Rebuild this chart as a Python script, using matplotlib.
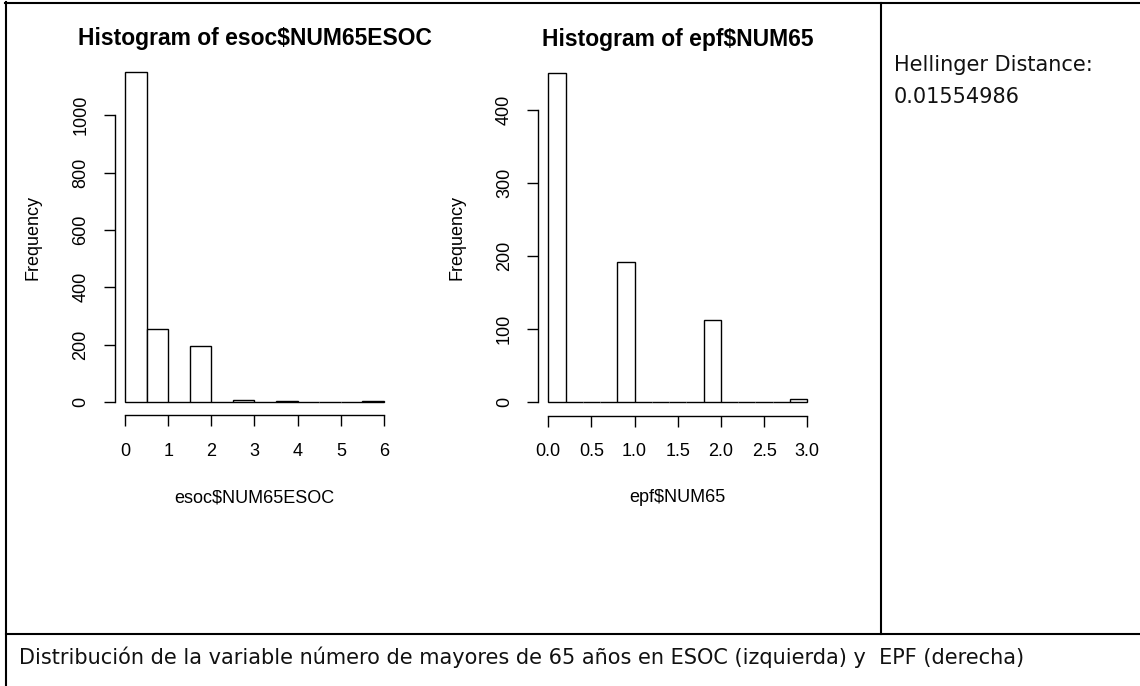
import numpy as np
import matplotlib
matplotlib.use("Agg")
import matplotlib.pyplot as plt
from matplotlib.lines import Line2D

# ---- data ----
esoc_edges = [0, 0.5, 1, 1.5, 2, 2.5, 3, 3.5, 4, 4.5, 5, 5.5, 6]
esoc_counts = [1150, 256, 0, 197, 0, 8, 0, 3, 0, 0, 0, 3]
esoc_yticks = [0, 200, 400, 600, 800, 1000]
esoc_xticks = [0, 1, 2, 3, 4, 5, 6]

epf_edges = [0, 0.2, 0.4, 0.6, 0.8, 1.0, 1.2, 1.4, 1.6, 1.8, 2.0, 2.2, 2.4, 2.6, 2.8, 3.0]
epf_counts = [451, 0, 0, 0, 192, 0, 0, 0, 0, 113, 0, 0, 0, 0, 5]
epf_yticks = [0, 100, 200, 300, 400]
epf_xticks = [0.0, 0.5, 1.0, 1.5, 2.0, 2.5, 3.0]
epf_xticklabels = ["0.0", "0.5", "1.0", "1.5", "2.0", "2.5", "3.0"]

hellinger = "0.01554986"
caption = "Distribución de la variable número de mayores de 65 años en ESOC (izquierda) y  EPF (derecha)"

W, H = 1140, 686
fig = plt.figure(figsize=(W / 100, H / 100), dpi=100)
fig.patch.set_facecolor("white")

R_FONT = "Liberation Sans"


def px_axes(x0, x1, ytop, ybot):
    return fig.add_axes([x0 / W, 1 - ybot / H, (x1 - x0) / W, (ybot - ytop) / H])


def r_hist(ax, edges, counts, yticks, xticks, xticklabels, title, xlabel):
    edges = np.array(edges)
    ax.bar(edges[:-1], counts, width=np.diff(edges), align="edge",
           facecolor="white", edgecolor="black", linewidth=1.0)
    xr = edges[-1] - edges[0]
    ymax = max(counts)
    # R pads the ranges by 4%
    ax.set_xlim(edges[0] - 0.04 * xr, edges[-1] + 0.04 * xr)
    ax.set_ylim(-0.04 * ymax, ymax * 1.04)
    for s in ("top", "right"):
        ax.spines[s].set_visible(False)
    ax.spines["left"].set_bounds(yticks[0], yticks[-1])
    ax.spines["bottom"].set_bounds(xticks[0], xticks[-1])
    for s in ("left", "bottom"):
        ax.spines[s].set_linewidth(1.0)
    ax.set_yticks(yticks)
    ax.set_yticklabels([str(t) for t in yticks], rotation=90, va="center",
                       family=R_FONT, fontsize=13)
    ax.set_xticks(xticks)
    ax.set_xticklabels(xticklabels, family=R_FONT, fontsize=13)
    ax.tick_params(axis="both", length=8, width=1.0, color="black")
    ax.tick_params(axis="x", pad=12)
    ax.tick_params(axis="y", pad=10)
    ax.set_title(title, family=R_FONT, fontsize=16.5, fontweight="bold", pad=10)
    ax.set_ylabel("Frequency", family=R_FONT, fontsize=13, va="center")
    ax.set_xlabel(xlabel, family=R_FONT, fontsize=13, va="center")
    ax.patch.set_alpha(0)


ax1 = px_axes(114.6, 394.4, 59, 415.2)
r_hist(ax1, esoc_edges, esoc_counts, esoc_yticks, esoc_xticks,
       [str(t) for t in esoc_xticks], "Histogram of esoc$NUM65ESOC", "esoc$NUM65ESOC")
ax1.yaxis.set_label_coords((33 - 114.6) / 279.8, 0.5)
ax1.xaxis.set_label_coords(0.5, (415.2 - 498) / 356.2)

ax2 = px_axes(537.9, 817.6, 59.9, 415.5)
r_hist(ax2, epf_edges, epf_counts, epf_yticks, epf_xticks,
       epf_xticklabels, "Histogram of epf$NUM65", "epf$NUM65")
ax2.yaxis.set_label_coords((457 - 537.9) / 279.7, 0.5)
ax2.xaxis.set_label_coords(0.5, (415.5 - 498) / 355.6)

# ---- table borders ----
def hline(y, x0, x1):
    fig.add_artist(Line2D([x0 / W, x1 / W], [1 - y / H, 1 - y / H],
                          color="black", linewidth=1.5, transform=fig.transFigure))


def vline(x, y0, y1):
    fig.add_artist(Line2D([x / W, x / W], [1 - y0 / H, 1 - y1 / H],
                          color="black", linewidth=1.5, transform=fig.transFigure))


hline(3, 5, W)
vline(6, 2, H)
vline(881, 3, 634)
hline(634, 6, W)

# ---- cell texts ----
fig.text(894 / W, 1 - 65 / H, "Hellinger Distance:", family="DejaVu Sans",
         fontsize=15, va="center", ha="left", color="#111111")
fig.text(894 / W, 1 - 97 / H, hellinger, family="DejaVu Sans",
         fontsize=15, va="center", ha="left", color="#111111")
fig.text(19 / W, 1 - 657 / H, caption, family="DejaVu Sans",
         fontsize=15, va="center", ha="left", color="#111111")

fig.savefig("out.png", dpi=100, facecolor="white")
